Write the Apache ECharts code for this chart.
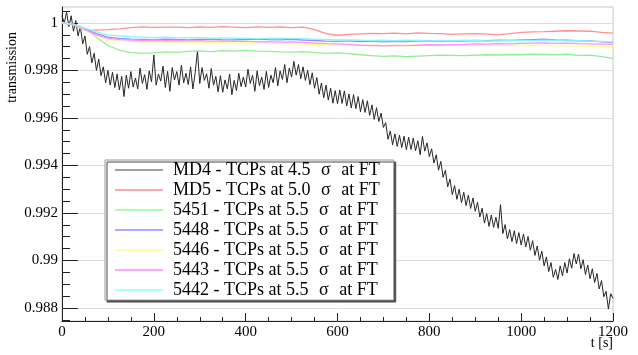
<!DOCTYPE html>
<html>
<head>
<meta charset="utf-8">
<script src="https://cdn.jsdelivr.net/npm/echarts@6/dist/echarts.min.js"></script>
<style>html,body{margin:0;padding:0;background:#fff;}#chart{width:638px;height:355px;}</style>
</head>
<body>
<div id="chart"></div>
<script>
// ---- data ----
const seriesNames = [
  'MD4 - TCPs at 4.5 σ at FT',
  'MD5 - TCPs at 5.0 σ at FT',
  '5451 - TCPs at 5.5 σ at FT',
  '5448 - TCPs at 5.5 σ at FT',
  '5446 - TCPs at 5.5 σ at FT',
  '5443 - TCPs at 5.5 σ at FT',
  '5442 - TCPs at 5.5 σ at FT'
];
const md4Step = 5;    // seconds between MD4 samples
const colorStep = 25; // seconds between samples of the other runs

const md4Values = [
  1.0003, 1.0000, 1.00045, 0.99985, 1.0003, 0.99965, 1.0001, 0.99945, 0.99985, 0.99912,
  0.99945, 0.99868, 0.999, 0.99832, 0.99872, 0.998, 0.99848, 0.99778, 0.99815, 0.99748,
  0.998, 0.99738, 0.99792, 0.99728, 0.99785, 0.99718, 0.99775, 0.9969, 0.9978, 0.99725,
  0.99795, 0.9973, 0.99768, 0.99722, 0.9981, 0.99745, 0.99782, 0.9972, 0.99798, 0.99752,
  0.99865, 0.99738, 0.99785, 0.99755, 0.99818, 0.99728, 0.99796, 0.99712, 0.99812, 0.9976,
  0.99795, 0.99738, 0.99822, 0.99748, 0.99788, 0.9974, 0.99815, 0.99722, 0.9979, 0.99882,
  0.99745, 0.99812, 0.99758, 0.99786, 0.99725, 0.99808, 0.99738, 0.99775, 0.9971, 0.99778,
  0.99708, 0.9976, 0.99722, 0.99785, 0.99698, 0.99758, 0.99715, 0.99788, 0.99732, 0.99772,
  0.9973, 0.99805, 0.99745, 0.9978, 0.99712, 0.99798, 0.99736, 0.99772, 0.9972, 0.99796,
  0.99728, 0.9978, 0.99748, 0.99812, 0.99735, 0.99798, 0.99762, 0.99825, 0.99748, 0.9981,
  0.99772, 0.99838, 0.9978, 0.99825, 0.99765, 0.99815, 0.99758, 0.998, 0.9974, 0.9979,
  0.99725, 0.9977, 0.997, 0.99747, 0.99685, 0.99738, 0.99675, 0.99725, 0.99662, 0.99715,
  0.9966, 0.99718, 0.99661, 0.99714, 0.9965, 0.99701, 0.99642, 0.99698, 0.99639, 0.9969,
  0.99626, 0.99677, 0.99623, 0.99672, 0.99611, 0.99655, 0.99594, 0.99643, 0.99585, 0.9962,
  0.9956, 0.9958, 0.9951, 0.99545, 0.99487, 0.99533, 0.9948, 0.99527, 0.99475, 0.99523,
  0.99466, 0.99519, 0.99467, 0.99515, 0.99462, 0.99504, 0.99445, 0.99522, 0.9946, 0.99495,
  0.99437, 0.9947, 0.9941, 0.99445, 0.9938, 0.99417, 0.9935, 0.9938, 0.9931, 0.99343,
  0.99277, 0.99315, 0.99257, 0.993, 0.99243, 0.99287, 0.99231, 0.99275, 0.99219, 0.99263,
  0.99207, 0.99245, 0.99183, 0.9922, 0.99157, 0.99197, 0.99143, 0.99191, 0.99139, 0.99182,
  0.99135, 0.99235, 0.99113, 0.99151, 0.99091, 0.9913, 0.99079, 0.99125, 0.99071, 0.99117,
  0.99065, 0.99111, 0.99057, 0.99101, 0.99043, 0.99083, 0.99021, 0.99061, 0.99001, 0.99039,
  0.98977, 0.99015, 0.98953, 0.98991, 0.98929, 0.98962, 0.9892, 0.98977, 0.98935, 0.98991,
  0.98947, 0.99007, 0.98967, 0.99029, 0.98985, 0.99027, 0.98965, 0.99003, 0.98941, 0.98981,
  0.98923, 0.98965, 0.98907, 0.98945, 0.9888, 0.98915, 0.98847, 0.9887, 0.98795, 0.9886,
  0.9884
];
const md5Values = [
  1.0000, 0.99992, 0.9997, 0.9997, 0.99972, 0.99975, 0.9998, 0.99983, 0.99981, 0.99982,
  0.99982, 0.9998, 0.99983, 0.99981, 0.99984, 0.99982, 0.9998, 0.99983, 0.99981, 0.99983,
  0.9998, 0.99982, 0.99972, 0.99955, 0.99948, 0.99952, 0.99954, 0.99956, 0.99955, 0.99957,
  0.99954, 0.99958, 0.99956, 0.99955, 0.99952, 0.99954, 0.99955, 0.99953, 0.9995, 0.99955,
  0.9996, 0.99962, 0.99963, 0.99965, 0.99967, 0.99966, 0.99965, 0.9996, 0.99957
];
const r5451Values = [
  1.0000, 0.99995, 0.99975, 0.9994, 0.99905, 0.99885, 0.99875, 0.99872, 0.99874, 0.99878,
  0.99876, 0.9988, 0.99882, 0.99879, 0.99883, 0.99881, 0.99884, 0.99881, 0.9988, 0.99878,
  0.99877, 0.99879, 0.99875, 0.99872, 0.99874, 0.99871, 0.99866, 0.99862, 0.99859, 0.99861,
  0.99858, 0.9986, 0.99862, 0.99864, 0.99863, 0.99862, 0.99864, 0.99866, 0.99865, 0.99867,
  0.99866, 0.99868, 0.99867, 0.99866, 0.99868, 0.99863, 0.99864, 0.99858, 0.99851
];
const r5448Values = [
  1.0000, 0.99992, 0.99975, 0.99955, 0.9994, 0.99935, 0.99932, 0.99931, 0.9993, 0.99932,
  0.99931, 0.99929, 0.99931, 0.99932, 0.9993, 0.99929, 0.99931, 0.99932, 0.9993, 0.99929,
  0.99931, 0.99928, 0.99926, 0.99923, 0.99922, 0.99924, 0.99921, 0.99923, 0.9992, 0.99922,
  0.99921, 0.99923, 0.99925, 0.99922, 0.99924, 0.99923, 0.99926, 0.99925, 0.99927, 0.99926,
  0.99928, 0.9993, 0.99932, 0.99929, 0.99927, 0.99925, 0.99924, 0.9992, 0.99918
];
const r5446Values = [
  1.0000, 0.99992, 0.9997, 0.99945, 0.9993, 0.99924, 0.99922, 0.9992, 0.99921, 0.99919,
  0.9992, 0.99918, 0.99919, 0.99917, 0.99918, 0.99916, 0.99917, 0.99915, 0.99914, 0.99913,
  0.99912, 0.99911, 0.9991, 0.99908, 0.99907, 0.99908, 0.99906, 0.99905, 0.99906, 0.99904,
  0.99905, 0.99906, 0.99904, 0.99905, 0.99907, 0.99906, 0.99905, 0.99907, 0.99906, 0.99904,
  0.99905, 0.99906, 0.99904, 0.99903, 0.99904, 0.99902, 0.99903, 0.99901, 0.999
];
const r5443Values = [
  1.0000, 0.99993, 0.99972, 0.9995, 0.99935, 0.9993, 0.99928, 0.99926, 0.99927, 0.99925,
  0.99926, 0.99924, 0.99925, 0.99923, 0.99924, 0.99922, 0.99923, 0.9992, 0.99921, 0.99919,
  0.9992, 0.99918, 0.99915, 0.99913, 0.99912, 0.9991, 0.99906, 0.99905, 0.99903, 0.99905,
  0.99904, 0.99906, 0.99908, 0.99907, 0.99909, 0.9991, 0.99912, 0.99911, 0.99913, 0.99912,
  0.99914, 0.99915, 0.99916, 0.99914, 0.99915, 0.99913, 0.99912, 0.99911, 0.9991
];
const r5442Values = [
  1.0000, 0.99995, 0.99978, 0.99962, 0.9995, 0.99945, 0.99942, 0.9994, 0.99938, 0.9994,
  0.99938, 0.99937, 0.99938, 0.99936, 0.99937, 0.99935, 0.99936, 0.99934, 0.99935, 0.99936,
  0.99935, 0.99934, 0.99932, 0.9993, 0.99928, 0.99929, 0.99927, 0.99926, 0.99927, 0.99925,
  0.99927, 0.99926, 0.99924, 0.99926, 0.99925, 0.99927, 0.99926, 0.99924, 0.99925, 0.99927,
  0.99926, 0.99925, 0.99927, 0.99926, 0.99924, 0.99925, 0.99923, 0.99922, 0.9992
];

const yTicks = [0.988, 0.99, 0.992, 0.994, 0.996, 0.998, 1];
const yTickLabels = ['0.988', '0.99', '0.992', '0.994', '0.996', '0.998', '1'];
const yMinorTicks = [
  0.9875, 0.988, 0.9885, 0.989, 0.9895, 0.99, 0.9905, 0.991, 0.9915, 0.992,
  0.9925, 0.993, 0.9935, 0.994, 0.9945, 0.995, 0.9955, 0.996, 0.9965, 0.997,
  0.9975, 0.998, 0.9985, 0.999, 0.9995, 1, 1.0005
];
const xMin = 0, xMax = 1200, xInterval = 200;
const yMin = 0.98745, yMax = 1.00067;

// ---- styles ----
const lineColors = ['#262626', '#ff9090', '#90ee90', '#9090ff', '#ffff88', '#ff90ff', '#88f4ff'];
const legendColors = ['#a0a0a0', '#ffaaaa', '#aaffaa', '#aaaaff', '#ffffaa', '#ffaaff', '#aaffff'];
const serif = 'Liberation Serif';

const valueSets = [md4Values, md5Values, r5451Values, r5448Values, r5446Values, r5443Values, r5442Values];
const steps = [md4Step, colorStep, colorStep, colorStep, colorStep, colorStep, colorStep];

const series = valueSets.map((vals, k) => ({
  name: seriesNames[k],
  type: 'line',
  xAxisIndex: 0,
  yAxisIndex: 0,
  symbol: 'none',
  showSymbol: false,
  smooth: false,
  animation: false,
  z: k === 0 ? 2 : 3,
  itemStyle: { color: lineColors[k] },
  lineStyle: { color: lineColors[k], width: k === 0 ? 1 : 1.3 },
  data: vals.map((v, i) => [i * steps[k], v])
}));

const chart = echarts.init(document.getElementById('chart'), null, { renderer: 'canvas' });
chart.setOption({
  animation: false,
  backgroundColor: '#ffffff',
  grid: {
    left: 62, right: 25, top: 7, bottom: 34,
    show: true, borderColor: '#c8c8c8', borderWidth: 1,
    containLabel: false, outerBoundsMode: 'none'
  },
  xAxis: {
    type: 'value', min: xMin, max: xMax, interval: xInterval,
    axisLine: { show: true, onZero: false, lineStyle: { color: '#222', width: 1 } },
    axisTick: { show: true, inside: true, length: 8, lineStyle: { color: '#222' } },
    minorTick: { show: true, splitNumber: 4, length: 4, lineStyle: { color: '#222' } },
    axisLabel: {
      fontFamily: serif, fontSize: 15, color: '#000', margin: 4, hideOverlap: false,
      showMinLabel: true, showMaxLabel: true,
      formatter: function (v) { return String(v); }
    },
    splitLine: { show: false },
    minorSplitLine: { show: false }
  },
  yAxis: [
    {
      type: 'value', min: yMin, max: yMax, position: 'left',
      axisLine: { show: true, onZero: false, lineStyle: { color: '#222', width: 1 } },
      axisTick: { show: true, inside: true, length: 16, customValues: yTicks, lineStyle: { color: '#222' } },
      axisLabel: {
        customValues: yTicks, fontFamily: serif, fontSize: 15, color: '#000', margin: 4, hideOverlap: false,
        formatter: function (v) {
          for (let i = 0; i < yTicks.length; i++) { if (Math.abs(yTicks[i] - v) < 1e-9) return yTickLabels[i]; }
          return String(v);
        }
      },
      splitLine: { show: true, lineStyle: { color: '#dcdcdc', width: 1 } }
    },
    {
      type: 'value', min: yMin, max: yMax, position: 'left',
      axisLine: { show: false },
      axisTick: { show: true, inside: true, length: 8, customValues: yMinorTicks, lineStyle: { color: '#222' } },
      axisLabel: { show: false },
      splitLine: { show: false }
    }
  ],
  legend: {
    orient: 'vertical',
    left: 105, top: 160,
    padding: [1, 14, 1, 10],
    icon: 'rect',
    itemWidth: 48, itemHeight: 2, itemGap: 2,
    backgroundColor: '#ffffff',
    borderColor: '#9a9a9a', borderWidth: 1,
    shadowColor: '#4a4a4a', shadowBlur: 0, shadowOffsetX: 2, shadowOffsetY: 2,
    selectedMode: false,
    textStyle: {
      fontFamily: serif, fontSize: 18, color: '#000', padding: [0, 0, 0, 5],
      rich: {
        a: { fontFamily: serif, fontSize: 18, color: '#000' },
        s: { fontFamily: serif, fontSize: 18, color: '#000', padding: [0, 6, 0, 6] }
      }
    },
    formatter: function (name) {
      const parts = name.split(' σ ');
      return '{a|' + parts[0] + ' }{s|σ}{a| ' + parts[1] + '}';
    },
    data: seriesNames.map((n, k) => ({
      name: n,
      icon: 'rect',
      itemStyle: { color: legendColors[k], borderWidth: 0 }
    }))
  },
  graphic: [
    {
      type: 'text', x: 12, y: 32, rotation: Math.PI / 2, z: 10,
      style: { text: 'transmission', fontFamily: serif, fontSize: 14, fill: '#000', textAlign: 'right', textVerticalAlign: 'middle' }
    },
    {
      type: 'text', x: 613, y: 343, z: 10,
      style: { text: 't [s]', fontFamily: serif, fontSize: 14, fill: '#000', textAlign: 'right', textVerticalAlign: 'middle' }
    }
  ],
  series: series
});
</script>
</body>
</html>
